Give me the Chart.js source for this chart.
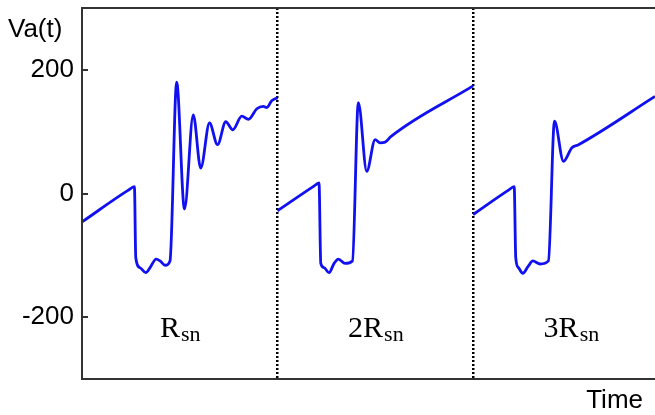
<!DOCTYPE html>
<html>
<head>
<meta charset="utf-8">
<script src="https://cdn.jsdelivr.net/npm/chart.js@4/dist/chart.umd.min.js"></script>
<style>
  html, body { margin: 0; padding: 0; background: #fff; }
  #wrap { width: 655px; height: 415px; position: relative; }
</style>
</head>
<body>
<div id="wrap"><canvas id="chart"></canvas></div>
<script>
// Va(t) waveform over three periods (Rsn, 2Rsn, 3Rsn)

// period 1
const seg1T = [0, 23.5, 26.8, 27.5, 29.7, 32.6, 34.8, 37.9, 39.9, 42.5, 45.0, 48.4, 52.4, 56.9, 60.7, 65.2, 69.3, 73.5, 77.1, 81.7, 85.1, 89.4, 92.7, 94.5, 97.0, 100];
const seg1V = [-46, 5, 11, -104, -120, -128, -120, -106, -109, -116, -109, 180, -25, 127, 41, 114, 79, 116, 103, 125, 120, 137, 141, 139, 150, 155];

// period 2
const seg2T = [100, 118.2, 121.2, 122.1, 123.8, 126.3, 128.9, 131.1, 134.5, 138.3, 141.3, 145.6, 149.9, 152.4, 155.0, 157.9, 200];
const seg2V = [-28, 11, 17, -113, -120, -128, -113, -106, -113, -109, 147, 36, 87, 82, 83, 92, 174];

// period 3
const seg3T = [200, 217.9, 221.0, 221.8, 223.2, 225.4, 228.3, 230.5, 234.3, 238.5, 241.6, 246.2, 250.5, 253.9, 293];
const seg3V = [-34, 5, 11, -104, -120, -129, -117, -109, -114, -109, 117, 52, 74, 79, 157];

const yTicks = [-200, 0, 200];
const dividers = [100, 200];
const segCenters = [50, 150, 250];
const segPrefix = ['', '2', '3'];
const segLabelY = -232;

const LINE_COLOR = 'rgb(16, 16, 240)';

function toPoints(t, v) {
	return t.map((x, i) => ({ x: x, y: v[i] }));
}

function lineSet(t, v) {
	return {
		data: toPoints(t, v),
		borderColor: LINE_COLOR,
		borderWidth: 2.8,
		pointRadius: 0,
		cubicInterpolationMode: 'monotone',
		fill: false
	};
}

// frame, inward ticks and text labels
const decorPlugin = {
	id: 'decor',
	afterDraw(chart) {
		const ctx = chart.ctx;
		const a = chart.chartArea;
		const xs = chart.scales.x;
		const ys = chart.scales.y;
		ctx.save();
		ctx.strokeStyle = '#333';
		ctx.lineWidth = 2;
		ctx.beginPath();
		ctx.moveTo(a.right, a.top);
		ctx.lineTo(a.left, a.top);
		ctx.lineTo(a.left, a.bottom);
		ctx.lineTo(a.right, a.bottom);
		ctx.stroke();

		yTicks.forEach(v => {
			const py = Math.round(ys.getPixelForValue(v));
			ctx.beginPath();
			ctx.moveTo(a.left, py);
			ctx.lineTo(a.left + 6, py);
			ctx.stroke();
		});

		ctx.fillStyle = '#000';
		ctx.textBaseline = 'middle';
		ctx.font = '26px "Liberation Sans", Arial, sans-serif';
		ctx.textAlign = 'left';
		ctx.fillText('Va(t)', 8, a.top + 22);
		ctx.textAlign = 'right';
		ctx.fillText('Time', a.right - 12, a.bottom + 22);

		// R_sn labels
		ctx.textBaseline = 'alphabetic';
		ctx.textAlign = 'left';
		segCenters.forEach((c, i) => {
			const mainTxt = segPrefix[i] + 'R';
			ctx.font = '30px "Liberation Serif", "Times New Roman", serif';
			const w1 = ctx.measureText(mainTxt).width;
			ctx.font = '22px "Liberation Serif", "Times New Roman", serif';
			const w2 = ctx.measureText('sn').width;
			const x0 = xs.getPixelForValue(c) - (w1 + w2) / 2;
			const by = ys.getPixelForValue(segLabelY);
			ctx.font = '30px "Liberation Serif", "Times New Roman", serif';
			ctx.fillText(mainTxt, x0, by);
			ctx.font = '22px "Liberation Serif", "Times New Roman", serif';
			ctx.fillText('sn', x0 + w1 + 1, by + 4);
		});
		ctx.restore();
	}
};

new Chart(document.getElementById('chart').getContext('2d'), {
	type: 'line',
	data: {
		datasets: [
			lineSet(seg1T, seg1V),
			lineSet(seg2T, seg2V),
			lineSet(seg3T, seg3V)
		]
	},
	options: {
		responsive: true,
		maintainAspectRatio: false,
		animation: false,
		layout: { padding: { top: 8, right: 0, left: 0, bottom: 0 } },
		plugins: {
			legend: { display: false },
			tooltip: { enabled: false }
		},
		scales: {
			x: {
				type: 'linear',
				min: 0,
				max: 293,
				afterBuildTicks: s => { s.ticks = dividers.map(v => ({ value: v })); },
				afterFit: s => { s.height = 36; s.paddingLeft = 0; s.paddingRight = 0; },
				ticks: { display: false },
				grid: { color: '#000', lineWidth: 2.5, drawTicks: false },
				border: { display: false, dash: [2, 2] }
			},
			y: {
				min: -300,
				max: 300,
				afterBuildTicks: s => { s.ticks = yTicks.map(v => ({ value: v })); },
				afterFit: s => { s.width = 82; s.paddingTop = 0; s.paddingBottom = 0; },
				ticks: {
					color: '#000',
					padding: 8,
					font: { family: '"Liberation Sans", Arial, sans-serif', size: 26 }
				},
				grid: { display: false, drawTicks: false },
				border: { display: false }
			}
		}
	},
	plugins: [decorPlugin]
});
</script>
</body>
</html>
